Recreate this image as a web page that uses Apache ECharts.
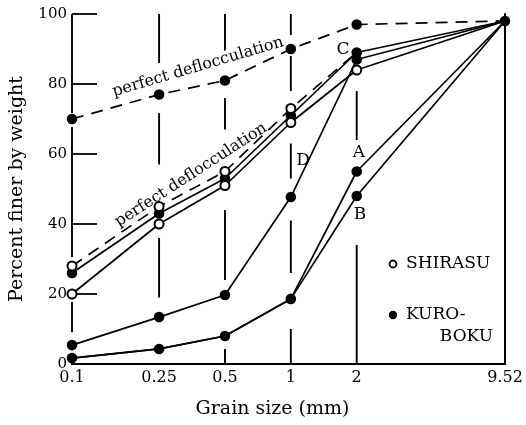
<!DOCTYPE html>
<html><head><meta charset="utf-8">
<script src="https://cdn.jsdelivr.net/npm/echarts@6/dist/echarts.min.js"></script>
<style>html,body{margin:0;padding:0;background:#fff}#c{width:526px;height:425px}</style>
</head><body><div id="c"></div>
<script>
// ---- data ----
const grainSizes = [0.1, 0.25, 0.5, 1, 2, 9.52];
const xTickLabels = ['0.1', '0.25', '0.5', '1', '2', '9.52'];
const yTickValues = [0, 20, 40, 60, 80, 100];
const deflocUpper = [70, 77, 81, 90, 97, 98];
const deflocLower = [28, 45, 55, 73, 89, null];
const shirasu = [20, 40, 51, 69, 84, 98];
const kuroC = [26, 43, 53, 71, 89, 98];
const kuroD = [5.4, 13.4, 19.7, 47.7, 87, 98];
const kuroA = [1.7, 4.3, 8, 18.6, 55, 98];
const kuroB = [1.7, 4.3, 8, 18.6, 48, 98];
// broken vertical guide lines: [grain size, percent from, percent to]
const guideSegments = [
  [0.1, 100, 71.7], [0.1, 67.7, 30.6], [0.1, 17.7, 9.1],
  [0.25, 100, 86], [0.25, 71.7, 57], [0.25, 36, 19],
  [0.5, 100, 85], [0.5, 76, 67], [0.5, 44, 24], [0.5, 4.3, 0],
  [1, 100, 94], [1, 88, 78], [1, 63, 53], [1, 41, 26], [1, 10, 0],
  [2, 78, 64], [2, 34, 0]
];

const FONT = 'DejaVu Serif';
const F = 'f', O = 'o', N = 'n';
function pts(vals, marks) {
  return grainSizes.map((g, i) => ({
    value: [g, vals[i] == null ? '-' : vals[i]],
    symbol: marks[i] === F ? 'circle' : (marks[i] === O ? 'emptyCircle' : 'none')
  }));
}
function lineSeries(vals, marks, dashed, z) {
  return {
    type: 'line', data: pts(vals, marks), xAxisIndex: 0, yAxisIndex: 0,
    symbolSize: 9, showSymbol: true, z: z || 3, animation: false, connectNulls: false,
    lineStyle: { color: '#000', width: 1.7, type: dashed ? [12, 8] : 'solid' },
    itemStyle: { color: '#000', borderColor: '#000', borderWidth: 1.6 },
    emphasis: { disabled: true }
  };
}

const chart = echarts.init(document.getElementById('c'), null, { renderer: 'canvas' });
chart.setOption({
  backgroundColor: '#fff',
  animation: false,
  grid: { left: 72, right: 21, top: 14, bottom: 61 },
  xAxis: [{
    type: 'log', logBase: 10, min: 0.1, max: 9.52,
    axisLine: { show: true, lineStyle: { color: '#000', width: 2 } },
    axisTick: { show: false },
    splitLine: { show: false }, minorTick: { show: false }, minorSplitLine: { show: false },
    axisLabel: {
      customValues: grainSizes, margin: 6,
      formatter: v => { const i = grainSizes.findIndex(g => Math.abs(g - v) < 1e-6); return i >= 0 ? xTickLabels[i] : ''; },
      color: '#000', fontFamily: FONT, fontSize: 16
    },
    name: 'Grain size (mm)', nameLocation: 'middle', nameGap: 36,
    nameTextStyle: { color: '#000', fontFamily: FONT, fontSize: 19, padding: [0, 32, 0, 0] }
  }, {
    type: 'log', logBase: 10, min: 0.1, max: 9.52, position: 'top',
    axisLine: { show: true, lineStyle: { color: '#000', width: 2 } },
    axisTick: { show: false }, axisLabel: { show: false }, splitLine: { show: false }
  }],
  yAxis: [{
    type: 'value', min: 0, max: 100, interval: 20,
    axisLine: { show: false },
    axisTick: { show: true, inside: true, length: 25, lineStyle: { color: '#000', width: 1.8 } },
    splitLine: { show: false },
    axisLabel: { color: '#000', fontFamily: FONT, fontSize: 15, margin: 5 },
    name: 'Percent finer by weight', nameLocation: 'middle', nameGap: 45,
    nameTextStyle: { color: '#000', fontFamily: FONT, fontSize: 19 }
  }, {
    type: 'value', min: 0, max: 100, position: 'right',
    axisLine: { show: true, lineStyle: { color: '#000', width: 2 } },
    axisTick: { show: false }, axisLabel: { show: false }, splitLine: { show: false }
  }],
  series: [
    {
      type: 'custom', data: guideSegments, encode: { x: 0, y: [1, 2] }, z: 1, silent: true,
      renderItem: (params, api) => {
        const p1 = api.coord([api.value(0), api.value(1)]);
        const p2 = api.coord([api.value(0), api.value(2)]);
        return { type: 'line', shape: { x1: p1[0], y1: p1[1], x2: p2[0], y2: p2[1] },
                 style: { stroke: '#000', lineWidth: 1.9 } };
      }
    },
    lineSeries(deflocUpper, [F, F, F, F, F, N], true, 3),
    lineSeries(kuroA, [F, F, F, F, F, N], false, 3),
    lineSeries(kuroB, [N, N, N, N, F, N], false, 3),
    lineSeries(kuroD, [F, F, F, F, F, N], false, 3),
    lineSeries(kuroC, [F, F, F, F, F, F], false, 3),
    lineSeries(deflocLower, [O, O, O, O, N, N], true, 4),
    lineSeries(shirasu, [O, O, O, O, O, N], false, 5)
  ],
  graphic: [
    { type: 'text', x: 198, y: 67, rotation: 16.5 * Math.PI / 180,
      style: { text: 'perfect deflocculation', font: '16px "DejaVu Serif"', fill: '#000', align: 'center', verticalAlign: 'middle', backgroundColor: '#fff' }, z: 10 },
    { type: 'text', x: 191, y: 175, rotation: 33 * Math.PI / 180,
      style: { text: 'perfect deflocculation', font: '16px "DejaVu Serif"', fill: '#000', align: 'center', verticalAlign: 'middle' }, z: 10 },
    { type: 'text', x: 343, y: 50, style: { text: 'C', font: '17px "DejaVu Serif"', fill: '#000', align: 'center', verticalAlign: 'middle' } },
    { type: 'text', x: 359, y: 153, style: { text: 'A', font: '17px "DejaVu Serif"', fill: '#000', align: 'center', verticalAlign: 'middle' } },
    { type: 'text', x: 360, y: 215, style: { text: 'B', font: '17px "DejaVu Serif"', fill: '#000', align: 'center', verticalAlign: 'middle' } },
    { type: 'text', x: 303, y: 161, style: { text: 'D', font: '17px "DejaVu Serif"', fill: '#000', align: 'center', verticalAlign: 'middle' } },
    { type: 'circle', shape: { cx: 393, cy: 264, r: 3.5 }, style: { fill: '#fff', stroke: '#000', lineWidth: 1.8 } },
    { type: 'text', x: 406, y: 264, style: { text: 'SHIRASU', font: '17px "DejaVu Serif"', fill: '#000', align: 'left', verticalAlign: 'middle' } },
    { type: 'circle', shape: { cx: 393, cy: 315, r: 4.2 }, style: { fill: '#000' } },
    { type: 'text', x: 406, y: 315, style: { text: 'KURO-', font: '17px "DejaVu Serif"', fill: '#000', align: 'left', verticalAlign: 'middle' } },
    { type: 'text', x: 493, y: 337, style: { text: 'BOKU', font: '17px "DejaVu Serif"', fill: '#000', align: 'right', verticalAlign: 'middle' } }
  ]
});
</script></body></html>
